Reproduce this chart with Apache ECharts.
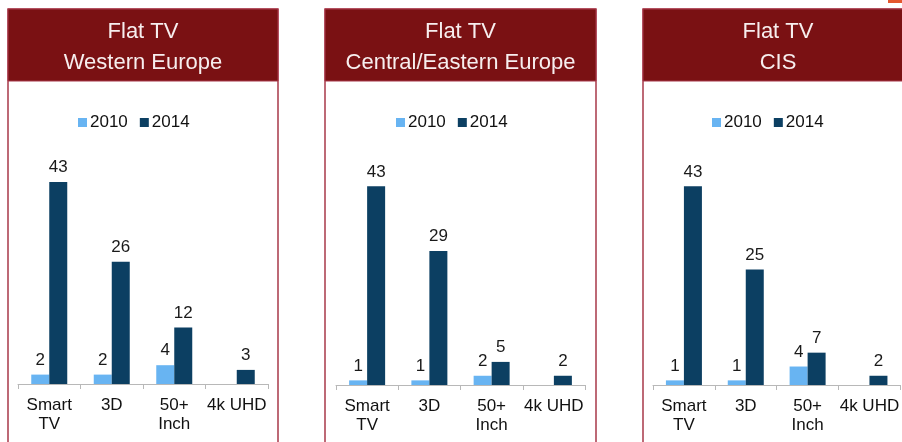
<!DOCTYPE html>
<html>
<head>
<meta charset="utf-8">
<script src="https://cdn.jsdelivr.net/npm/echarts@6/dist/echarts.min.js"></script>
<style>html,body{margin:0;padding:0;background:#fff}#c{width:902px;height:442px}</style>
</head>
<body>
<div id="c"></div>
<script>
var categories = ['Smart\nTV', '3D', '50+\nInch', '4k UHD'];
var seriesNames = ['2010', '2014'];
var titles = ['Flat TV\nWestern Europe', 'Flat TV\nCentral/Eastern Europe', 'Flat TV\nCIS'];
var we2010 = [2, 2, 4, null];
var we2014 = [43, 26, 12, 3];
var cee2010 = [1, 1, 2, null];
var cee2014 = [43, 29, 5, 2];
var cis2010 = [1, 1, 4, null];
var cis2014 = [43, 25, 7, 2];

var panelData = [[we2010, we2014], [cee2010, cee2014], [cis2010, cis2014]];
var panels = [
  {x: 8, w: 270, gl: 18, gw: 250, top: 149, h: 235, legL: 73},
  {x: 325, w: 271, gl: 336, gw: 249, top: 154, h: 231, legL: 391},
  {x: 643, w: 270, gl: 653, gw: 249, top: 154, h: 231, legL: 707}
];
var c2010 = '#68b4f2', c2014 = '#0c3f62';
var headerColor = '#7a1113', borderColor = '#a8394a';
var FONT = 'Liberation Sans, Arial, sans-serif';

var chart = echarts.init(document.getElementById('c'), null, {renderer: 'canvas'});
var grids = [], xAxes = [], yAxes = [], legends = [], series = [], graphics = [];
panels.forEach(function (p, i) {
  graphics.push({type: 'rect', shape: {x: p.x, y: 9, width: p.w, height: 440}, style: {fill: '#fff', stroke: borderColor, lineWidth: 1.5}, z: -10});
  graphics.push({type: 'rect', shape: {x: p.x, y: 9, width: p.w, height: 72}, style: {fill: headerColor, stroke: borderColor, lineWidth: 1}, z: -9});
  var lines = titles[i].split('\n');
  lines.forEach(function (t, k) {
    graphics.push({type: 'text', x: p.x + p.w / 2, y: 32 + k * 31, style: {text: t, fill: '#f7eeee', font: '22px "Liberation Sans", Arial, sans-serif', textAlign: 'center', textVerticalAlign: 'middle'}, z: 5});
  });
  grids.push({left: p.gl, width: p.gw, top: p.top, height: p.h});
  xAxes.push({
    type: 'category', gridIndex: i, data: categories,
    axisLine: {lineStyle: {color: '#b8b8b8', width: 1}},
    axisTick: {show: true, length: 5, lineStyle: {color: '#b8b8b8'}},
    axisLabel: {color: '#111', fontSize: 17, lineHeight: 19, margin: 12, fontFamily: FONT, interval: 0}
  });
  yAxes.push({type: 'value', gridIndex: i, min: 0, max: 50, show: false, splitLine: {show: false}});
  legends.push({
    left: p.legL, top: 109, icon: 'rect', itemWidth: 9, itemHeight: 9, itemGap: 12,
    data: seriesNames, selectedMode: false,
    textStyle: {fontSize: 17, color: '#111', fontFamily: FONT, padding: [0, 0, 0, -2]}
  });
  [c2010, c2014].forEach(function (col, j) {
    series.push({
      type: 'bar', name: seriesNames[j], xAxisIndex: i, yAxisIndex: i,
      data: panelData[i][j], barWidth: 18, barGap: '0%',
      itemStyle: {color: col},
      label: {show: true, position: 'top', distance: 6, fontSize: 17, color: '#1a1a1a', fontFamily: FONT},
      animation: false
    });
  });
});
graphics.push({type: 'rect', shape: {x: 888, y: 0, width: 14, height: 3}, style: {fill: '#e4572e'}});

chart.setOption({
  animation: false,
  grid: grids, xAxis: xAxes, yAxis: yAxes, legend: legends, series: series,
  graphic: graphics
});
</script>
</body>
</html>
